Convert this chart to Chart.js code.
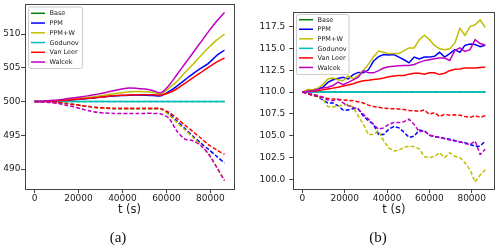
<!DOCTYPE html>
<html>
<head>
<meta charset="utf-8">
<script src="https://cdn.jsdelivr.net/npm/chart.js@4/dist/chart.umd.min.js"></script>
<style>
    body { margin: 0; background: #fff; width: 500px; height: 250px; overflow: hidden; position: relative; }
    .panel { position: absolute; top: 0; width: 250px; height: 250px; }
    .cap { position: absolute; top: 229px; font: 15px "Liberation Serif", serif; line-height: 16px; color: #111; transform: translateX(-50%); }
</style>
</head>
<body>
<div class="panel" style="left:0"><canvas id="chartA" width="250" height="250"></canvas></div>
<div class="panel" style="left:250px"><canvas id="chartB" width="250" height="250"></canvas></div>
<div class="cap" style="left:118px">(a)</div>
<div class="cap" style="left:378px">(b)</div>
<script>
// nombres y colores de los esquemas
const esquemas = ['Base', 'PPM', 'PPM+W', 'Godunov', 'Van Leer', 'Walcek'];
const colores = ['#008000', '#0000ff', '#bfbf00', '#00bfbf', '#ff0000', '#bf00bf'];

const xTicks = [0, 20000, 40000, 60000, 80000];
const yTicksA = [490, 495, 500, 505, 510];
const yTicksB = [100, 102.5, 105, 107.5, 110, 112.5, 115, 117.5];

// panel (a): cada hora
const tiempoA = [0, 3600, 7200, 10800, 14400, 18000, 21600, 25200, 28800, 32400, 36000, 39600, 43200,
    46800, 50400, 54000, 57600, 61200, 64800, 68400, 72000, 75600, 79200, 82800, 86400];

const baseA = [500, 500, 500, 500, 500, 500, 500, 500, 500, 500, 500, 500, 500, 500, 500, 500, 500, 500, 500, 500, 500, 500, 500, 500, 500];
const ppmA = [500, 500.02, 500.06, 500.12, 500.2, 500.28, 500.38, 500.48, 500.6, 500.72, 500.82, 500.9, 500.95,
    500.97, 500.95, 500.9, 500.85, 501.5, 502.3, 503.2, 504.1, 504.9, 505.7, 506.8, 507.6];
const ppmwA = [500, 500.03, 500.1, 500.18, 500.28, 500.4, 500.52, 500.65, 500.8, 500.98, 501.15, 501.3, 501.45,
    501.5, 501.45, 501.35, 501.2, 502.0, 503.0, 504.3, 505.5, 506.8, 508.0, 509.1, 510.0];
const godunovA = [500, 500, 500, 500, 500, 500, 500, 500, 500, 500, 500, 500, 500, 500, 500, 500, 500, 500, 500, 500, 500, 500, 500, 500, 500];
const vanLeerA = [500, 500.02, 500.06, 500.12, 500.2, 500.3, 500.4, 500.5, 500.62, 500.75, 500.85, 500.92, 500.97,
    501.0, 501.0, 501.0, 500.98, 501.3, 501.9, 502.7, 503.5, 504.3, 505.1, 505.85, 506.45];
const walcekA = [500, 500.05, 500.15, 500.25, 500.4, 500.55, 500.7, 500.9, 501.1, 501.35, 501.6, 501.85, 502.0,
    501.95, 501.85, 501.6, 501.3, 502.4, 504.0, 505.6, 507.2, 508.8, 510.4, 511.9, 513.2];

const baseDA = [500, 500, 500, 500, 500, 500, 500, 500, 500, 500, 500, 500, 500, 500, 500, 500, 500, 500, 500, 500, 500, 500, 500, 500, 500];
const ppmDA = [500, 499.98, 499.93, 499.85, 499.7, 499.55, 499.4, 499.25, 499.1, 499.0, 498.95, 498.95, 498.95,
    498.95, 498.95, 498.95, 498.9, 498.2, 497.1, 496.0, 494.9, 493.85, 492.9, 491.9, 490.9];
const ppmwDA = [500, 499.98, 499.93, 499.85, 499.7, 499.55, 499.4, 499.25, 499.1, 499.0, 498.95, 498.92, 498.9,
    498.9, 498.9, 498.9, 498.85, 498.0, 496.9, 495.8, 494.7, 493.6, 492.2, 490.3, 488.3];
const godunovDA = [500, 500, 500, 500, 500, 500, 500, 500, 500, 500, 500, 500, 500, 500, 500, 500, 500, 500, 500, 500, 500, 500, 500, 500, 500];
const vanLeerDA = [500, 499.98, 499.93, 499.85, 499.7, 499.55, 499.4, 499.25, 499.12, 499.05, 499.0, 499.0, 499.0,
    499.0, 499.0, 499.0, 498.95, 498.4, 497.5, 496.5, 495.55, 494.6, 493.6, 492.85, 492.2];
const walcekDA = [500, 499.95, 499.85, 499.7, 499.45, 499.2, 498.9, 498.6, 498.4, 498.3, 498.25, 498.25, 498.25,
    498.25, 498.25, 498.25, 498.15, 497.5, 495.6, 494.45, 494.2, 493.5, 492.2, 490.3, 488.3];

// panel (b): cada 2400 s
const tiempoB = [0, 2400, 4800, 7200, 9600, 12000, 14400, 16800, 19200, 21600, 24000, 26400, 28800, 31200,
    33600, 36000, 38400, 40800, 43200, 45600, 48000, 50400, 52800, 55200, 57600, 60000, 62400, 64800,
    67200, 69600, 72000, 74400, 76800, 79200, 81600, 84000, 86400];

const baseB = [110, 110, 110, 110, 110, 110, 110, 110, 110, 110, 110, 110, 110, 110, 110, 110, 110, 110, 110,
    110, 110, 110, 110, 110, 110, 110, 110, 110, 110, 110, 110, 110, 110, 110, 110, 110, 110];
const ppmB = [110, 110.1, 110.25, 110.35, 110.55, 111.1, 111.4, 111.55, 111.7, 111.5, 112.0, 112.25, 112.2,
    112.55, 113.55, 114.05, 114.3, 114.25, 114.3, 114.0, 113.7, 113.35, 114.0, 113.8, 114.0, 114.0, 114.1,
    114.55, 114.0, 114.4, 114.85, 114.55, 115.35, 115.5, 115.45, 115.2, 115.35];
const ppmwB = [110, 110.3, 110.25, 110.45, 110.85, 111.5, 111.6, 111.4, 111.3, 111.85, 111.5, 111.9, 112.45,
    113.2, 114.05, 114.7, 114.55, 114.4, 114.4, 114.4, 114.75, 115.05, 115.05, 116.0, 116.5, 116.0, 115.35,
    114.95, 114.85, 114.95, 115.6, 117.3, 116.5, 117.5, 117.7, 118.25, 117.4];
const godunovB = [110, 110, 110, 110, 110, 110, 110, 110, 110, 110, 110, 110, 110, 110, 110, 110, 110, 110, 110,
    110, 110, 110, 110, 110, 110, 110, 110, 110, 110, 110, 110, 110, 110, 110, 110, 110, 110];
const vanLeerB = [110, 110.05, 110.1, 110.15, 110.25, 110.35, 110.45, 110.55, 110.7, 110.8, 110.95, 111.15, 111.3,
    111.35, 111.45, 111.5, 111.6, 111.75, 111.85, 111.9, 111.9, 112.05, 112.15, 112.15, 112.05, 112.2, 112.2,
    112.0, 112.15, 112.45, 112.6, 112.65, 112.75, 112.75, 112.75, 112.8, 112.85];
const walcekB = [110, 110.05, 110.15, 110.3, 110.45, 110.55, 110.75, 111.15, 110.85, 111.1, 111.4, 111.7, 112.45,
    112.2, 112.2, 112.45, 112.75, 112.9, 112.95, 113.0, 113.05, 113.05, 113.15, 113.4, 113.6, 113.7, 113.8,
    113.9, 113.9, 113.6, 114.75, 115.05, 114.65, 114.85, 116.0, 115.55, 115.35];

const baseDB = [110, 110, 110, 110, 110, 110, 110, 110, 110, 110, 110, 110, 110, 110, 110, 110, 110, 110, 110,
    110, 110, 110, 110, 110, 110, 110, 110, 110, 110, 110, 110, 110, 110, 110, 110, 110, 110];
const ppmDB = [110, 109.8, 109.65, 109.5, 109.1, 108.75, 108.75, 108.45, 107.95, 107.95, 108.1, 108.05, 107.25,
    106.7, 106.3, 105.15, 105.15, 105.75, 106.05, 105.9, 105.4, 104.8, 104.95, 105.65, 105.55, 105.05, 104.9,
    104.8, 104.7, 104.6, 104.45, 104.3, 104.2, 104.0, 103.8, 103.8, 104.4];
const ppmwDB = [110, 110.1, 109.7, 109.6, 109.2, 108.35, 108.3, 108.4, 108.5, 108.6, 108.25, 107.25, 106.3,
    105.15, 105.15, 105.55, 104.4, 103.6, 103.25, 103.35, 103.7, 103.8, 103.75, 103.5, 102.6, 102.5, 102.6,
    103.05, 102.5, 103.05, 102.65, 102.5, 101.9, 101.1, 99.7, 100.5, 101.1];
const godunovDB = [110, 110, 110, 110, 110, 110, 110, 110, 110, 110, 110, 110, 110, 110, 110, 110, 110, 110, 110,
    110, 110, 110, 110, 110, 110, 110, 110, 110, 110, 110, 110, 110, 110, 110, 110, 110, 110];
const vanLeerDB = [110, 109.8, 109.65, 109.5, 109.4, 109.25, 109.2, 109.15, 109.1, 109.05, 109.0, 108.9, 108.75,
    108.5, 108.35, 108.25, 108.15, 108.1, 108.1, 108.05, 108.0, 107.9, 107.85, 107.8, 107.95, 107.45, 107.65,
    107.2, 107.45, 107.35, 107.4, 107.35, 107.2, 107.1, 107.3, 107.1, 107.3];
const walcekDB = [110, 109.9, 109.75, 109.6, 109.4, 109.1, 109.0, 109.2, 108.75, 108.45, 108.25, 108.05, 107.45,
    106.9, 106.3, 105.75, 105.9, 106.3, 106.5, 106.5, 106.6, 106.9, 106.3, 105.45, 105.55, 105.05, 104.95,
    104.8, 104.65, 104.5, 104.4, 104.3, 104.1, 104.0, 104.4, 102.85, 103.45];

const TEXTO = '#222';

// marco completo alrededor del area del grafico
const marco = {
    id: 'marco',
    afterDatasetsDraw(chart) {
        const { ctx, chartArea: a } = chart;
        ctx.save();
        ctx.strokeStyle = '#444';
        ctx.lineWidth = 1;
        ctx.strokeRect(Math.round(a.left) + 0.5, Math.round(a.top) + 0.5,
            Math.round(a.right - a.left), Math.round(a.bottom - a.top));
        ctx.restore();
    }
};

// leyenda dentro del area, estilo matplotlib
const leyenda = {
    id: 'leyenda',
    afterDraw(chart, args, o) {
        const ctx = chart.ctx;
        ctx.save();
        ctx.fillStyle = 'rgba(255,255,255,0.85)';
        ctx.strokeStyle = '#cccccc';
        ctx.lineWidth = 1;
        ctx.beginPath();
        ctx.roundRect(o.x + 0.5, o.y + 0.5, o.w, o.h, 2);
        ctx.fill();
        ctx.stroke();
        ctx.font = '6.5px "DejaVu Sans"';
        ctx.textBaseline = 'middle';
        esquemas.forEach((nombre, i) => {
            const yy = o.y + o.first + i * o.paso;
            ctx.strokeStyle = colores[i];
            ctx.lineWidth = 1.5;
            ctx.beginPath();
            ctx.moveTo(o.x + 3, yy);
            ctx.lineTo(o.x + 17, yy);
            ctx.stroke();
            ctx.fillStyle = TEXTO;
            ctx.fillText(nombre, o.x + 21.5, yy + 0.5);
        });
        ctx.restore();
    }
};

// continua y discontinua de cada esquema, en ese orden
function armarDatasets(tiempo, solidas, discontinuas, tension) {
    const sets = [];
    solidas.forEach((serie, i) => {
        // Base queda tapada por Godunov; mas fina para que no asome
        const ancho = i === 0 ? 1 : 1.5;
        sets.push({
            label: esquemas[i],
            data: serie.map((v, j) => ({ x: tiempo[j], y: v })),
            borderColor: colores[i],
            borderWidth: ancho,
            tension: tension
        });
        sets.push({
            label: esquemas[i] + ' min',
            data: discontinuas[i].map((v, j) => ({ x: tiempo[j], y: v })),
            borderColor: colores[i],
            borderWidth: ancho,
            borderDash: [4, 2],
            tension: tension
        });
    });
    // matplotlib pinta encima la ultima serie
    sets.forEach((s, i) => { s.order = 100 - i; });
    return sets;
}

function crearPanel(id, datasets, cfg) {
    new Chart(document.getElementById(id), {
        type: 'line',
        data: { datasets },
        options: {
            responsive: false,
            animation: false,
            events: [],
            elements: { point: { radius: 0 } },
            layout: { padding: cfg.padding },
            plugins: {
                legend: { display: false },
                tooltip: { enabled: false },
                leyenda: cfg.leyenda
            },
            scales: {
                x: {
                    type: 'linear',
                    min: -4320,
                    max: 90720,
                    afterBuildTicks: s => { s.ticks = xTicks.map(v => ({ value: v })); },
                    afterFit: s => { s.height = 28; s.paddingLeft = 0; s.paddingRight = 0; },
                    grid: { drawOnChartArea: false, tickLength: 4, color: '#444' },
                    border: { display: false },
                    ticks: { color: TEXTO, font: { family: 'DejaVu Sans', size: 9 }, padding: cfg.xPad, maxRotation: 0, callback: v => String(v) },
                    title: { display: true, text: 't (s)', color: TEXTO, font: { family: 'DejaVu Sans', size: 11.5 }, padding: 0 }
                },
                y: {
                    min: cfg.yMin,
                    max: cfg.yMax,
                    afterBuildTicks: s => { s.ticks = cfg.yTicks.map(v => ({ value: v })); },
                    afterFit: s => { s.width = cfg.yWidth; s.paddingTop = 0; s.paddingBottom = 0; },
                    grid: { drawOnChartArea: false, tickLength: 4, color: '#444' },
                    border: { display: false },
                    ticks: { color: TEXTO, font: { family: 'DejaVu Sans', size: 9 }, padding: cfg.yPad, callback: cfg.yFmt }
                }
            }
        },
        plugins: [marco, leyenda]
    });
}

crearPanel('chartA',
    armarDatasets(tiempoA,
        [baseA, ppmA, ppmwA, godunovA, vanLeerA, walcekA],
        [baseDA, ppmDA, ppmwDA, godunovDA, vanLeerDA, walcekDA], 0.25),
    {
        padding: { left: 0, top: 4, right: 16, bottom: 33 },
        yMin: 487.05, yMax: 514.45, yTicks: yTicksA, yWidth: 25,
        yPad: 0.5, xPad: 0, yFmt: v => String(v),
        leyenda: { x: 28, y: 6.5, w: 54, h: 61.5, first: 6.8, paso: 9.75 }
    });

crearPanel('chartB',
    armarDatasets(tiempoB,
        [baseB, ppmB, ppmwB, godunovB, vanLeerB, walcekB],
        [baseDB, ppmDB, ppmwDB, godunovDB, vanLeerDB, walcekDB], 0),
    {
        padding: { left: 0, top: 11.7, right: 5.6, bottom: 33 },
        yMin: 98.9, yMax: 119.2, yTicks: yTicksB, yWidth: 43.3,
        yPad: 4, xPad: 0.5, yFmt: v => v.toFixed(1),
        leyenda: { x: 46, y: 14, w: 52.5, h: 60, first: 5.7, paso: 9.55 }
    });
</script>
</body>
</html>
